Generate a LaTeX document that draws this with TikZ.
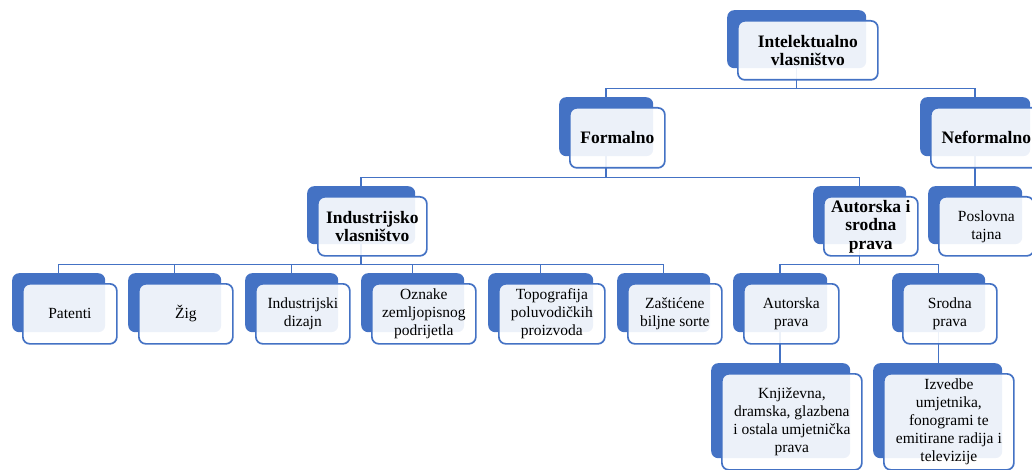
\documentclass[tikz,border=0pt]{standalone}
\usepackage{fontspec}
\setmainfont{Liberation Serif}
\definecolor{ipblue}{HTML}{4472C4}
\pgfdeclarelayer{bg}
\pgfsetlayers{bg,main}
\tikzset{
  back/.style={fill=ipblue, rounded corners=7pt, inner sep=0pt, anchor=north west},
  front/.style={draw=ipblue, line width=1.7pt, fill=white, fill opacity=0.9, text opacity=1,
    rounded corners=7pt, inner sep=0pt, anchor=north west, align=center},
  head/.style={font=\bfseries\fontsize{17.5}{18.5}\selectfont},
  leaf/.style={font=\fontsize{15.5}{18}\selectfont},
  conn/.style={draw=ipblue, line width=1.5pt}
}
% blue box behind, light box in front shifted by 10
\newcommand{\ipbox}[7]{%
  \node[back, minimum width={(#4-#2)*1pt}, minimum height={(#5-#3)*1pt}] (#1-b) at (#2,#3) {};
  \node[front, #6, minimum width={(#4-#2+1)*1pt}, minimum height={(#5-#3+1)*1pt}] (#1) at (#2+10,#3+10) {#7};
}
\begin{document}
\begin{tikzpicture}[x=1pt, y=-1pt]
  \useasboundingbox (0,0) rectangle (1032,470);
  \clip (0,0) rectangle (1032,470);

  \ipbox{ip}{727}{10}{866}{68}{head}{Intelektualno\\vlasništvo}
  \ipbox{form}{559}{97}{653}{156}{head}{Formalno}
  \ipbox{neform}{920}{97}{1030}{156}{head}{Neformalno}
  \ipbox{ind}{307}{186}{415}{244}{head}{Industrijsko\\vlasništvo}
  \ipbox{aut}{813}{186}{906}{244}{head}{Autorska i\\srodna\\prava}
  \ipbox{posl}{928}{186}{1022}{244}{leaf}{Poslovna\\tajna}

  \ipbox{pat}{12}{273}{105}{332}{leaf}{Patenti}
  \ipbox{zig}{128}{273}{221}{332}{leaf}{Žig}
  \ipbox{dizajn}{245}{273}{338}{332}{leaf}{Industrijski\\dizajn}
  \ipbox{oznake}{361}{273}{464}{332}{leaf}{Oznake\\zemljopisnog\\podrijetla}
  \ipbox{topo}{488}{273}{593}{332}{leaf}{Topografija\\poluvodičkih\\proizvoda}
  \ipbox{sorte}{617}{273}{710}{332}{leaf}{Zaštićene\\biljne sorte}
  \ipbox{autp}{733}{273}{827}{332}{leaf}{Autorska\\prava}
  \ipbox{srodp}{892}{273}{985}{332}{leaf}{Srodna\\prava}

  \ipbox{knjiz}{711}{363}{850}{458}{leaf}{Književna,\\dramska, glazbena\\i ostala umjetnička\\prava}
  \ipbox{izv}{873}{363}{1002}{458}{leaf}{Izvedbe\\umjetnika,\\fonogrami te\\emitirane radija i\\televizije}

  \begin{pgfonlayer}{bg}
    \foreach \c in {form,neform}
      \draw[conn] (ip-b.south) -- ++(0,20) -| (\c-b.north);
    \foreach \c in {ind,aut}
      \draw[conn] (form-b.south) -- ++(0,21) -| (\c-b.north);
    \draw[conn] (neform-b.south) -- (neform-b.south |- posl-b.north);
    \foreach \c in {pat,zig,dizajn,oznake,topo,sorte}
      \draw[conn] (ind-b.south) -- ++(0,20) -| (\c-b.north);
    \foreach \c in {autp,srodp}
      \draw[conn] (aut-b.south) -- ++(0,20) -| (\c-b.north);
    \draw[conn] (autp-b.south) -- (autp-b.south |- knjiz-b.north);
    \draw[conn] (srodp-b.south) -- (srodp-b.south |- izv-b.north);
  \end{pgfonlayer}
\end{tikzpicture}
\end{document}
